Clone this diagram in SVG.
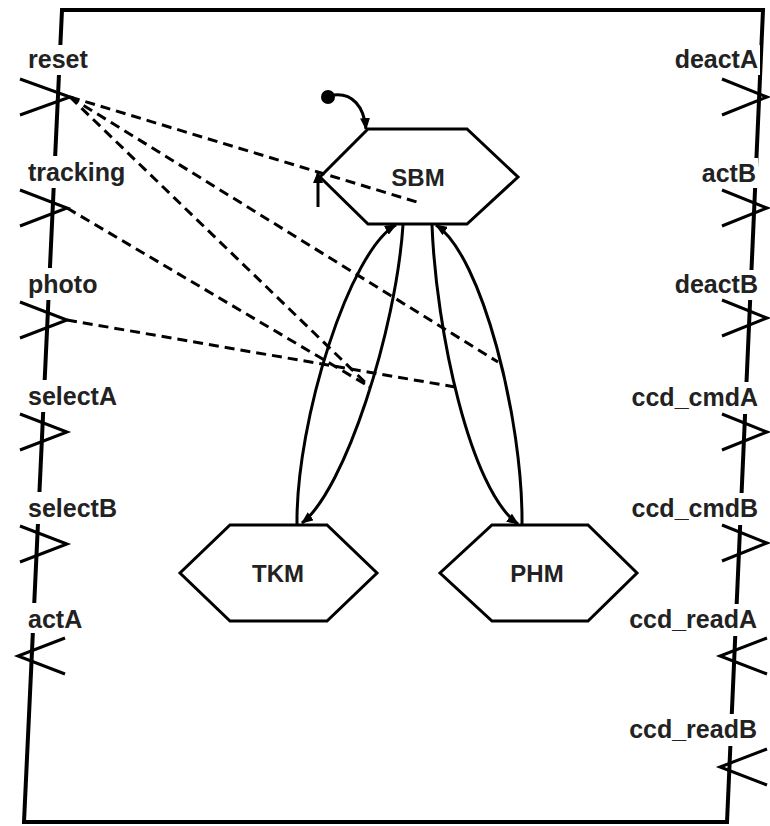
<svg xmlns="http://www.w3.org/2000/svg" width="770" height="826" viewBox="0 0 770 826">
<style>
.frame{fill:none;stroke:#000;stroke-width:4;stroke-linejoin:miter}
.port{fill:none;stroke:#000;stroke-width:3}
.lbl{font-family:"Liberation Sans",Arial,sans-serif;font-weight:bold;font-size:25px;fill:#222}
.lbl-end{text-anchor:end}
.bg{fill:#fff}
.hex{fill:#fff;stroke:#000;stroke-width:3}
.nlbl{font-family:"Liberation Sans",Arial,sans-serif;font-weight:bold;font-size:24px;fill:#222;text-anchor:middle}
.dash{fill:none;stroke:#000;stroke-width:3;stroke-dasharray:10 6}
.tr{fill:none;stroke:#000;stroke-width:3}
</style>
<defs>
<marker id="ah" viewBox="0 0 12 10" refX="11" refY="5" markerWidth="12" markerHeight="10" markerUnits="userSpaceOnUse" orient="auto">
<path d="M0,0 L12,5 L0,10 Z" fill="#000"/>
</marker>
</defs>
<rect width="770" height="826" fill="#fff"/>
<g id="frame">
<path class="frame" d="M62,10 L763,10 L727,822 L24,822 Z"/>
</g>
<g id="port-reset"><rect class="bg" x="26" y="45" width="66" height="30"/><text class="lbl" x="28" y="68">reset</text><polyline class="port" points="20,79 70,97 20,115"/></g>
<g id="port-tracking"><rect class="bg" x="26" y="156" width="104" height="32"/><text class="lbl" x="28" y="181">tracking</text><polyline class="port" points="20,190 67,208 20,226"/></g>
<g id="port-photo"><rect class="bg" x="26" y="268" width="76" height="32"/><text class="lbl" x="28" y="293">photo</text><polyline class="port" points="20,302 67,320 20,338"/></g>
<g id="port-selectA"><rect class="bg" x="26" y="380" width="96" height="32"/><text class="lbl" x="28" y="405">selectA</text><polyline class="port" points="20,414 67,432 20,450"/></g>
<g id="port-selectB"><rect class="bg" x="26" y="492" width="96" height="32"/><text class="lbl" x="28" y="517">selectB</text><polyline class="port" points="20,526 67,544 20,562"/></g>
<g id="port-actA"><rect class="bg" x="26" y="603" width="60" height="30"/><text class="lbl" x="28" y="628">actA</text><polyline class="port" points="65,638 18,656 65,674"/></g>
<g id="port-deactA"><rect class="bg" x="667" y="45" width="93" height="30"/><text class="lbl lbl-end" x="758" y="68">deactA</text><polyline class="port" points="722,79 767,97 722,115"/></g>
<g id="port-actB"><rect class="bg" x="695" y="158" width="63" height="30"/><text class="lbl lbl-end" x="756" y="182">actB</text><polyline class="port" points="722,190 767,208 722,226"/></g>
<g id="port-deactB"><rect class="bg" x="667" y="270" width="93" height="30"/><text class="lbl lbl-end" x="758" y="293">deactB</text><polyline class="port" points="722,300 767,318 722,336"/></g>
<g id="port-ccd_cmdA"><rect class="bg" x="627" y="382" width="133" height="32"/><text class="lbl lbl-end" x="758" y="406">ccd_cmdA</text><polyline class="port" points="722,414 767,432 722,450"/></g>
<g id="port-ccd_cmdB"><rect class="bg" x="627" y="493" width="133" height="32"/><text class="lbl lbl-end" x="758" y="517">ccd_cmdB</text><polyline class="port" points="722,525 767,543 722,561"/></g>
<g id="port-ccd_readA"><rect class="bg" x="624" y="604" width="136" height="32"/><text class="lbl lbl-end" x="757" y="628">ccd_readA</text><polyline class="port" points="767,638 720,656 767,674"/></g>
<g id="port-ccd_readB"><rect class="bg" x="624" y="714" width="136" height="32"/><text class="lbl lbl-end" x="757" y="738">ccd_readB</text><polyline class="port" points="767,749 720,767 767,785"/></g>
<g id="SBM"><polygon class="hex" points="368,129 467,129 518,177 467,224 368,224 320,177"/><text class="nlbl" x="418" y="186">SBM</text></g>
<g id="TKM"><polygon class="hex" points="230,525 327,525 377,573 327,621 230,621 180,573"/><text class="nlbl" x="278" y="582">TKM</text></g>
<g id="PHM"><polygon class="hex" points="492,525 588,525 637,573 588,621 492,621 440,573"/><text class="nlbl" x="537" y="582">PHM</text></g>
<g id="initial"><circle cx="328" cy="97" r="7" fill="#000"/></g>
<g id="connectors">
<path class="tr" d="M334,95 C352,93 364,106 366,129" marker-end="url(#ah)"/>
<path class="tr" d="M297,524 C296,420 350,250 396,225" marker-end="url(#ah)"/>
<path class="tr" d="M403,225 C396,330 345,490 302,523" marker-end="url(#ah)"/>
<path class="tr" d="M432,225 C436,330 470,490 518,524" marker-end="url(#ah)"/>
<path class="tr" d="M522,524 C523,420 482,255 436,225" marker-end="url(#ah)"/>
<path class="dash" d="M70,97 L417,202"/>
<path class="dash" d="M70,97 L498,362"/>
<path class="dash" d="M70,97 L370,387"/>
<path class="dash" d="M67,208 L370,387"/>
<path class="dash" d="M67,320 L455,387"/>
<path class="tr" d="M318,207 L318,172" marker-end="url(#ah)"/>
</g>
</svg>
